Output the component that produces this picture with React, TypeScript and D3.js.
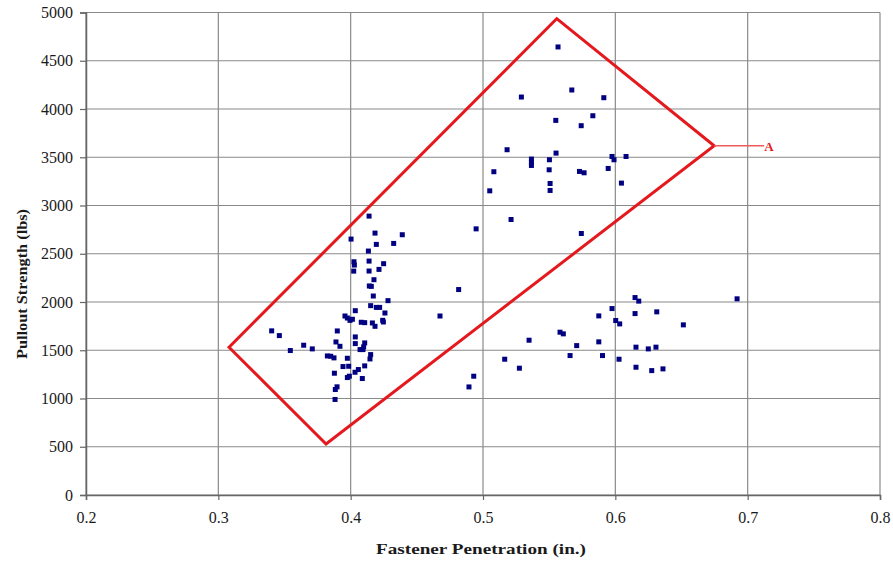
import React, { useEffect, useRef } from 'react';
import * as d3 from 'd3';

// Fastener penetration (in.) for each test
const penetration = [
  0.3403, 0.3461, 0.3544, 0.3645, 0.371,
  0.4139, 0.4184, 0.439, 0.4003, 0.4194, 0.4325, 0.4134, 0.4025, 0.4028, 0.4139,
  0.4249, 0.4023, 0.4139, 0.4214, 0.4176, 0.4141, 0.4156, 0.4171, 0.4282, 0.4151,
  0.4194, 0.4219, 0.4035, 0.4259, 0.4675, 0.3957, 0.3975, 0.3995, 0.4013, 0.408,
  0.4106, 0.4164, 0.4184, 0.4242, 0.4247, 0.3899, 0.4035, 0.3889, 0.4035, 0.3919,
  0.4106, 0.4071, 0.4093, 0.4098, 0.3824, 0.3849, 0.3874, 0.3975, 0.4151, 0.4146,
  0.3942, 0.3985, 0.4106, 0.4033, 0.3975, 0.399, 0.4058, 0.3877, 0.4088, 0.3897,
  0.3884, 0.3882,
  0.4816, 0.493, 0.4894, 0.5164, 0.5275, 0.5348, 0.5582, 0.5607, 0.5708, 0.5658,
  0.5875, 0.5875, 0.5903, 0.5975, 0.6003, 0.6033, 0.6028, 0.6149, 0.6177, 0.6149,
  0.6313, 0.6156, 0.6249, 0.6307, 0.6156, 0.6275, 0.636, 0.6514, 0.692,
  0.5567, 0.529, 0.5671, 0.5913, 0.583, 0.555, 0.5742, 0.5182, 0.5552, 0.5366,
  0.5366, 0.5366, 0.5502, 0.55, 0.5975, 0.599, 0.6081, 0.5946, 0.5082, 0.5729,
  0.5764, 0.6046, 0.5507, 0.5507, 0.5051, 0.5212, 0.5743, 0.4948,
];

// Pullout strength (lbs), same order
const strength = [
  1701, 1652, 1497, 1552, 1514,
  2890, 2714, 2697, 2652, 2597, 2607, 2528, 2417, 2383, 2424,
  2397, 2320, 2321, 2338, 2231, 2166, 2162, 2062, 2014, 1962,
  1944, 1944, 1910, 1886, 1855, 1855, 1834, 1810, 1821, 1790,
  1786, 1783, 1748, 1810, 1793, 1700, 1638, 1586, 1569, 1541,
  1576, 1507, 1507, 1535, 1441, 1438, 1421, 1417, 1455, 1410,
  1331, 1334, 1338, 1272, 1217, 1231, 1300, 1262, 1207, 1121,
  1093, 990,
  2129, 1231, 1120, 1407, 1314, 1604, 1687, 1670, 1548, 1445,
  1856, 1587, 1445, 1932, 1808, 1773, 1407, 2046, 2009, 1880,
  1898, 1532, 1514, 1532, 1324, 1289, 1307, 1763, 2033,
  4643, 4124, 4197, 4117, 3930, 3882, 3827, 3578, 3543, 3481,
  3446, 3415, 3474, 3370, 3508, 3474, 3508, 3384, 3350, 3353,
  3339, 3232, 3228, 3156, 3152, 2855, 2710, 2758,
];

// outline "A" drawn around the data (top, right, bottom, left)
const boxX = [0.5557, 0.6747, 0.3814, 0.3081];
const boxY = [4936, 3619, 529, 1531];

const xTicks = [0.2, 0.3, 0.4, 0.5, 0.6, 0.7, 0.8];
const yTicks = [0, 500, 1000, 1500, 2000, 2500, 3000, 3500, 4000, 4500, 5000];

const W = 893;
const H = 567;
const margin = { top: 12.5, right: 13, bottom: 72, left: 86 };

const App = () => {
  const svgRef = useRef(null);

  useEffect(() => {
    const svg = d3.select(svgRef.current);
    svg.selectAll('*').remove();

    const width = W - margin.left - margin.right;
    const height = H - margin.top - margin.bottom;

    const x = d3.scaleLinear().domain([0.2, 0.8]).range([0, width]);
    const y = d3.scaleLinear().domain([0, 5000]).range([height, 0]);

    const g = svg.append('g').attr('transform', `translate(${margin.left}, ${margin.top})`);

    // grid
    g.append('g')
      .selectAll('line')
      .data(yTicks)
      .join('line')
      .attr('x1', 0).attr('x2', width)
      .attr('y1', (d) => y(d)).attr('y2', (d) => y(d))
      .attr('stroke', '#8a8a8a')
      .attr('stroke-width', 1.2);

    g.append('g')
      .selectAll('line')
      .data(xTicks)
      .join('line')
      .attr('x1', (d) => x(d)).attr('x2', (d) => x(d))
      .attr('y1', 0).attr('y2', height)
      .attr('stroke', '#8a8a8a')
      .attr('stroke-width', 1.2);

    // axes
    const yAxis = g.append('g')
      .call(d3.axisLeft(y).tickValues(yTicks).tickSize(6).tickPadding(7).tickFormat(d3.format('d')));
    const xAxis = g.append('g')
      .attr('transform', `translate(0, ${height})`)
      .call(d3.axisBottom(x).tickValues(xTicks).tickSize(5).tickPadding(12).tickFormat(d3.format('.1f')));

    [yAxis, xAxis].forEach((a) => {
      a.select('.domain').attr('stroke', '#666').attr('stroke-width', 1.5);
      a.selectAll('.tick line').attr('stroke', '#666').attr('stroke-width', 1.2);
      a.selectAll('.tick text')
        .attr('fill', '#1a1a1a')
        .style('font-family', '"Liberation Serif", "Times New Roman", serif')
        .style('font-size', '16px');
    });

    // red outline
    const pts = boxX.map((d, i) => [x(d), y(boxY[i])]);
    g.append('path')
      .attr('d', d3.line()(pts) + 'Z')
      .attr('fill', 'none')
      .attr('stroke', '#e5191d')
      .attr('stroke-width', 3)
      .attr('stroke-linejoin', 'miter');

    // label A
    const ax = x(boxX[1]);
    const ay = y(boxY[1]);
    g.append('line')
      .attr('x1', ax).attr('x2', ax + 50)
      .attr('y1', ay).attr('y2', ay)
      .attr('stroke', '#ef5a5a')
      .attr('stroke-width', 1.3);
    g.append('text')
      .attr('x', ax + 50)
      .attr('y', ay + 5)
      .attr('fill', '#e5191d')
      .style('font-family', '"Liberation Serif", serif')
      .style('font-weight', 'bold')
      .style('font-size', '13px')
      .text('A');

    // data points
    g.append('g')
      .selectAll('rect')
      .data(penetration.map((p, i) => ({ p, s: strength[i] })))
      .join('rect')
      .attr('x', (d) => x(d.p) - 2.5)
      .attr('y', (d) => y(d.s) - 2.5)
      .attr('width', 5)
      .attr('height', 5)
      .attr('fill', '#000080');

    // axis titles
    svg.append('text')
      .attr('x', 481)
      .attr('y', 554)
      .attr('text-anchor', 'middle')
      .attr('fill', '#1a1a1a')
      .style('font-family', '"Liberation Serif", serif')
      .style('font-weight', 'bold')
      .style('font-size', '15px')
      .attr('textLength', 210)
      .attr('lengthAdjust', 'spacingAndGlyphs')
      .text('Fastener Penetration (in.)');

    svg.append('text')
      .attr('transform', `translate(27, 284) rotate(-90)`)
      .attr('text-anchor', 'middle')
      .attr('fill', '#1a1a1a')
      .style('font-family', '"Liberation Serif", serif')
      .style('font-weight', 'bold')
      .style('font-size', '15px')
      .attr('textLength', 150)
      .attr('lengthAdjust', 'spacingAndGlyphs')
      .text('Pullout Strength (lbs)');
  }, []);

  return (
    <svg
      ref={svgRef}
      width={W}
      height={H}
      style={{ position: 'fixed', left: 0, top: 0, background: '#fff' }}
    ></svg>
  );
};

export default App;
